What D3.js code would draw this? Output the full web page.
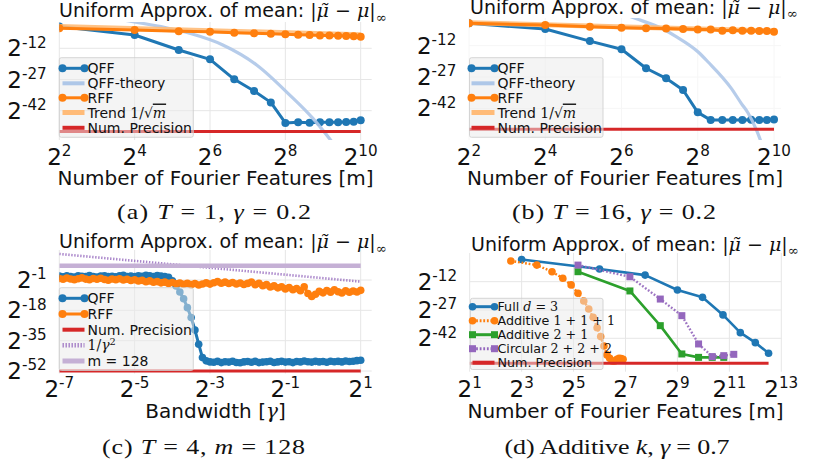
<!DOCTYPE html>
<html><head><meta charset="utf-8">
<script src="https://cdn.jsdelivr.net/npm/d3@7/dist/d3.min.js"></script>
<style>html,body{margin:0;padding:0;background:#fff;}svg{display:block;}</style>
</head><body>
<svg id="fig" width="816" height="467"></svg>
<script>
// ================= DATA (values are log2 exponents of the error) =================
// Panel (a): T = 1, gamma = 0.2
const aM = [4,16,36,64,100,144,196,256,324,400,484,576,676,784,900,1024];
const aQFF = [-1.5,-5.6,-12.8,-17.3,-26.9,-32.5,-38.0,-47.9,-47.6,-47.8,-47.6,-47.5,-47.5,-47.4,-47.3,-46.6];
const aRFF = [-2.4,-3.2,-3.8,-4.1,-4.5,-4.8,-5.0,-5.3,-5.5,-5.6,-5.8,-5.9,-6.0,-6.1,-6.2,-6.4];
const aTheoryM = [12,15.5,28,44,81,151,278,425,580,680];
const aTheory = [2.0,0.8,-2.0,-4.8,-10.4,-20.0,-34.5,-45.7,-55.6,-61.0];
const aTrendM = [4,1024];
const aTrend = [-1.5,-5.5];
const aPrec = -52;

// Panel (b): T = 16, gamma = 0.2
const bM = [4,16,36,64,100,144,196,256,324,400,484,576,676,784,900,1024];
const bQFF = [-1.3,-4.0,-9.8,-13.7,-22.8,-27.6,-33.2,-43.9,-47.6,-47.5,-47.6,-47.5,-47.4,-47.6,-47.5,-47.3];
const bRFF = [-1.3,-2.1,-2.9,-3.4,-3.7,-3.8,-4.0,-4.2,-4.3,-4.8,-4.6,-4.8,-4.8,-5.0,-5.0,-5.3];
const bTheoryM = [64,82,141,169,258,309,471,568,639,744,832];
const bTheory = [3.5,1.1,-4.5,-7.3,-15.0,-19.8,-32.4,-39.8,-44.2,-52.3,-60.0];
const bTrendM = [4,1024];
const bTrend = [-1.0,-5.0];
const bPrec = -52;

// Panel (c): T = 4, m = 128 ; x = log2(gamma)
const cGamma = [-7.0,-6.9,-6.8,-6.7,-6.6,-6.5,-6.4,-6.3,-6.2,-6.1,
  -6.0,-5.9,-5.8,-5.7,-5.6,-5.5,-5.4,-5.3,-5.2,-5.1,
  -5.0,-4.9,-4.8,-4.7,-4.6,-4.5,-4.4,-4.3,-4.2,-4.1,
  -4.0,-3.9,-3.8,-3.7,-3.6,-3.5,-3.4,-3.3,-3.2,-3.1,
  -3.0,-2.9,-2.8,-2.7,-2.6,-2.5,-2.4,-2.3,-2.2,-2.1,
  -2.0,-1.9,-1.8,-1.7,-1.6,-1.5,-1.4,-1.3,-1.2,-1.1,
  -1.0,-0.9,-0.8,-0.7,-0.6,-0.5,-0.4,-0.3,-0.2,-0.1,
  0.0,0.1,0.2,0.3,0.4,0.5,0.6,0.7,0.8,0.9,1.0];
const cQFF = [1.2,0.8,1.4,1.0,0.7,1.3,1.1,0.9,1.5,1.0,
  0.6,1.2,1.4,0.9,1.1,0.8,1.3,1.6,1.0,1.2,
  0.9,1.4,1.1,1.7,1.3,1.0,1.5,1.2,0.9,0.5,
  -1.5,-4.3,-7.7,-11.5,-16.5,-22.0,-29.0,-37.0,-44.5,-46.3,
  -46.9,-47.1,-46.6,-47.3,-46.8,-47.0,-46.5,-47.2,-47.4,-46.9,
  -46.7,-47.1,-46.6,-47.3,-47.0,-46.8,-46.5,-47.2,-46.9,-46.6,
  -47.0,-46.8,-47.3,-46.7,-46.9,-46.4,-46.8,-47.0,-46.6,-46.9,
  -46.7,-47.1,-46.5,-46.8,-46.6,-46.9,-46.4,-46.7,-46.5,-46.2,-46.0];
const cRFF = [-0.2,-0.6,0.1,-0.4,-0.8,-0.3,0.2,-0.5,-0.9,-0.2,
  -0.6,0.0,-0.7,-1.1,-0.4,-0.8,-0.3,-1.0,-0.6,-1.3,
  -0.9,-1.6,-1.2,-2.0,-1.5,-2.3,-1.9,-2.6,-2.2,-2.9,
  -2.4,-3.1,-2.7,-3.4,-2.9,-3.6,-3.0,-3.8,-3.2,-2.6,
  -3.3,-2.5,-1.9,-2.8,-2.2,-3.0,-2.4,-3.2,-2.7,-3.5,
  -2.9,-2.1,-3.6,-2.8,-4.2,-3.6,-4.9,-4.3,-5.4,-4.8,
  -6.0,-5.2,-6.5,-5.8,-7.0,-4.8,-8.6,-10.2,-9.0,-7.4,
  -8.2,-6.9,-7.8,-6.5,-7.6,-8.3,-7.0,-7.9,-7.2,-7.7,-6.8];
const cInvGamma = [-7, 1];
const cInvSq = [13.6, -1.9];
const cM128 = 7;
const cPrec = -52;

// Panel (d): Additive k, gamma = 0.7
const dFullM = [8,64,216,512,1000,1728,2744,4096,5832];
const dFull = [-0.2,-5.3,-8.5,-16.4,-20.3,-29.6,-39.0,-44.3,-49.9];
const dAdd111M = [6,12,18,24,30,36,42,48,54,60,66,72,78,84,90,96,102,108,114,120];
const dAdd111 = [-1.0,-3.2,-6.7,-10.2,-13.7,-18.1,-22.2,-26.5,-30.9,-36.4,-41.1,-46.1,-50.8,-52.6,-54.0,-54.0,-53.1,-52.6,-52.7,-53.1];
const dAdd21M = [36,144,324,576,900,1296,1764];
const dAdd21 = [-6.7,-16.9,-35.3,-50.3,-52.1,-52.1,-52.1];
const dCircM = [36,144,324,576,900,1296,1764,2304];
const dCirc = [-3.2,-9.4,-21.2,-30.0,-45.0,-51.7,-51.2,-50.5];
const dPrecM = [2, 5832];
const dPrec = -55.2;

// tick exponents
const mTicks = [2,4,6,8,10];
const gTicks = [-7,-5,-3,-1,1];
const dTicks = [1,3,5,7,9,11,13];
const yTicksAB = [-12,-27,-42];
const yTicksC = [-1,-18,-35,-52];
const yTicksD = [-12,-27,-42];

// ================= DRAWING =================
const svg = d3.select('#fig');
const defs = svg.append('defs');
const SANS = "'DejaVu Sans', sans-serif";
const SERIF = "'DejaVu Serif', serif";
const CAP = "'Liberation Serif', serif";
const INK = '#111111';
const C = {blue:'#1f77b4', orange:'#ff7f0e', ltblue:'#aec7e8', ltorange:'#ffbb78', red:'#d62728',
  purple:'#9467bd', ltpurple:'#c5b0d5', green:'#2ca02c'};
const p2 = e => Math.pow(2, e);

function rich(g, x, y, segs, fs, anchor, family, supScale) {
  const t = g.append('text').attr('x', x).attr('y', y).attr('font-size', fs)
    .attr('text-anchor', anchor || 'start').attr('fill', INK).attr('font-family', family || SANS);
  const ss = supScale || 0.7;
  let shift = 0;
  segs.forEach(([txt, st]) => {
    const s = t.append('tspan').text(txt);
    if (st.includes('r') || st.includes('i')) s.attr('font-family', family === CAP ? CAP : SERIF);
    if (st.includes('i')) s.attr('font-style', 'italic');
    let target = 0;
    if (st.includes('^')) { target = -fs * 0.38; s.attr('font-size', fs * ss); }
    if (st.includes('_')) { target = fs * 0.25; s.attr('font-size', fs * ss); }
    if (target !== shift) { s.attr('dy', target - shift); shift = target; }
    if (st.includes('o')) s.attr('text-decoration', 'overline');
  });
  return t;
}
const expStr = d => (d < 0 ? '-' + Math.abs(d) : String(d));

function axes(cfg) {
  const g = svg.append('g');
  const x = d3.scaleLog().base(2).domain(cfg.xDom).range(cfg.xRng);
  const y = d3.scaleLog().base(2).domain(cfg.yDom).range(cfg.yRng);
  const [L, T, R, B] = cfg.area;
  defs.append('clipPath').attr('id', cfg.id).append('rect')
    .attr('x', L).attr('y', T).attr('width', R - L).attr('height', B - T);
  g.selectAll(null).data(cfg.xTicks).join('line')
    .attr('x1', d => x(p2(d))).attr('x2', d => x(p2(d))).attr('y1', T).attr('y2', B)
    .attr('stroke', cfg.grid).attr('stroke-width', 1);
  g.selectAll(null).data(cfg.yTicks).join('line')
    .attr('y1', d => y(p2(d))).attr('y2', d => y(p2(d))).attr('x1', L).attr('x2', R)
    .attr('stroke', cfg.grid).attr('stroke-width', 1);
  cfg.xTicks.forEach(d => rich(g, x(p2(d)), cfg.xLabY, [['2', 's'], [expStr(d), 's^']], 23, 'middle', SANS, 0.66));
  cfg.yTicks.forEach(d => rich(g, L - 12.6, y(p2(d)) + 8, [['2', 's'], [expStr(d), 's^']], 23, 'end', SANS, 0.66));
  const plot = g.append('g').attr('clip-path', `url(#${cfg.id})`);
  return {g, plot, x, y, area: cfg.area};
}

function markers(g, pts, o) {
  if (o.marker === 'circle') {
    g.selectAll(null).data(pts).join('circle').attr('cx', d => d[0]).attr('cy', d => d[1])
      .attr('r', o.r).attr('fill', o.color).attr('opacity', o.mop || 1);
  } else if (o.marker === 'square') {
    g.selectAll(null).data(pts).join('rect').attr('x', d => d[0] - o.r).attr('y', d => d[1] - o.r)
      .attr('width', 2 * o.r).attr('height', 2 * o.r).attr('fill', o.color).attr('opacity', o.mop || 1);
  }
}

function series(ax, xs, es, o) {
  const pts = xs.map((v, i) => [ax.x(v), ax.y(p2(es[i]))]);
  const line = d3.line().curve(o.curve || d3.curveLinear);
  ax.plot.append('path').attr('d', line(pts)).attr('fill', 'none').attr('stroke', o.color)
    .attr('stroke-width', o.w).attr('stroke-linejoin', 'round').attr('stroke-linecap', o.cap || 'butt')
    .attr('stroke-dasharray', o.dash || null).attr('opacity', o.op || 1);
  if (o.marker) markers(ax.plot, pts, o);
}

function legend(cfg) {
  const g = svg.append('g');
  const [L, T, R, B] = cfg.box;
  g.append('rect').attr('x', L).attr('y', T).attr('width', R - L).attr('height', B - T).attr('rx', 2)
    .attr('fill', '#e9e9e9').attr('fill-opacity', 0.5).attr('stroke', '#cccccc').attr('stroke-width', 0.8);
  cfg.items.forEach((it, i) => {
    const yy = cfg.rows[i];
    const [h0, h1] = cfg.hx;
    g.append('line').attr('x1', h0).attr('x2', h1).attr('y1', yy).attr('y2', yy)
      .attr('stroke', it.color).attr('stroke-width', it.w).attr('stroke-dasharray', it.dash || null)
      .attr('opacity', it.op || 1);
    if (it.marker) markers(g, [[h0, yy], [h1, yy]], it);
    rich(g, cfg.tx, yy + cfg.fs * 0.36, it.label, cfg.fs, 'start');
  });
}

const TITLE = [['Uniform Approx. of mean: ', 's'], ['|', 'r'], ['\u03bc\u0303', 'i'], [' \u2212 ', 'r'], ['\u03bc', 'i'], ['|', 'r'], ['\u221e', 'r_']];
function title(x, y) { rich(svg, x, y, TITLE, 19, 'start'); }
function caption(cx, y, segs, len) {
  const sx = 1.3;
  const t = rich(svg, 0, 0, segs, 20, 'middle', CAP).attr('transform', `translate(${cx},${y}) scale(${sx},1)`);
  if (len) t.attr('textLength', len / sx).attr('lengthAdjust', 'spacing');
}

// ---------- Panel (a) ----------
(function () {
  const ax = axes({id: 'clipA', xDom: [4, 1024], xRng: [59.3, 360.7], yDom: [p2(-12), p2(-42)], yRng: [48.3, 110.7],
    area: [59.3, 22, 371.7, 140], xTicks: mTicks, yTicks: yTicksAB, xLabY: 165, grid: '#e6e6e6'});
  series(ax, aM, aQFF, {color: C.blue, w: 3, marker: 'circle', r: 4});
  series(ax, aTheoryM, aTheory, {color: C.ltblue, w: 3.2, curve: d3.curveMonotoneX, op: 0.9});
  series(ax, aTrendM, aTrend, {color: C.ltorange, w: 5, op: 0.9});
  series(ax, aM, aRFF, {color: C.orange, w: 3, marker: 'circle', r: 4});
  series(ax, [4, 1024], [aPrec, aPrec], {color: C.red, w: 3});
  legend({box: [59.3, 57.7, 193.3, 137.3], rows: [68.3, 83.3, 97.8, 112.5, 127.8], hx: [62.5, 84.5], tx: 87.5, fs: 14,
    items: [
      {color: C.blue, w: 3, marker: 'circle', r: 4, label: [['QFF', 's']]},
      {color: C.ltblue, w: 4, label: [['QFF-theory', 's']]},
      {color: C.orange, w: 3, marker: 'circle', r: 4, label: [['RFF', 's']]},
      {color: C.ltorange, w: 5, label: [['Trend ', 's'], ['1/\u221a', 'r'], ['m', 'io']]},
      {color: C.red, w: 4, label: [['Num. Precision', 's']]}
    ]});
  title(59, 17);
  rich(svg, 215.5, 184.5, [['Number of Fourier Features [m]', 's']], 20, 'middle');
  caption(214, 219, [['(a) ', 'r'], ['T', 'i'], [' = 1, ', 'r'], ['\u03b3', 'i'], [' = 0.2', 'r']], 194);
})();

// ---------- Panel (b) ----------
(function () {
  const ax = axes({id: 'clipB', xDom: [4, 1024], xRng: [469, 774], yDom: [p2(-12), p2(-42)], yRng: [45.7, 108.4],
    area: [469, 18, 781, 140], xTicks: mTicks, yTicks: yTicksAB, xLabY: 165, grid: '#f6f6f6'});
  series(ax, bM, bQFF, {color: C.blue, w: 3, marker: 'circle', r: 4});
  series(ax, bTheoryM, bTheory, {color: C.ltblue, w: 3.2, curve: d3.curveMonotoneX, op: 0.9});
  series(ax, bTrendM, bTrend, {color: C.ltorange, w: 5, op: 0.9});
  series(ax, bM, bRFF, {color: C.orange, w: 3, marker: 'circle', r: 4});
  series(ax, [4, 1024], [bPrec, bPrec], {color: C.red, w: 3});
  legend({box: [469.5, 57.7, 603, 137.3], rows: [68.3, 83.3, 97.8, 112.5, 127.8], hx: [471.5, 494.5], tx: 497.5, fs: 14,
    items: [
      {color: C.blue, w: 3, marker: 'circle', r: 4, label: [['QFF', 's']]},
      {color: C.ltblue, w: 4, label: [['QFF-theory', 's']]},
      {color: C.orange, w: 3, marker: 'circle', r: 4, label: [['RFF', 's']]},
      {color: C.ltorange, w: 5, label: [['Trend ', 's'], ['1/\u221a', 'r'], ['m', 'io']]},
      {color: C.red, w: 4, label: [['Num. Precision', 's']]}
    ]});
  title(470, 13.5);
  rich(svg, 625, 185, [['Number of Fourier Features [m]', 's']], 20, 'middle');
  caption(614, 219, [['(b) ', 'r'], ['T', 'i'], [' = 16, ', 'r'], ['\u03b3', 'i'], [' = 0.2', 'r']], 204);
})();

// ---------- Panel (c) ----------
(function () {
  const ax = axes({id: 'clipC', xDom: [p2(-7), p2(1)], xRng: [59.3, 360.7], yDom: [p2(-1), p2(-52)], yRng: [280, 371],
    area: [59.3, 250, 371.7, 373.5], xTicks: gTicks, yTicks: yTicksC, xLabY: 396.7, grid: '#e6e6e6'});
  const gx = cGamma.map(p2);
  series(ax, gx, cQFF, {color: C.blue, w: 3, marker: 'circle', r: 3.8});
  series(ax, gx, cRFF, {color: C.orange, w: 3, marker: 'circle', r: 3.8});
  series(ax, [p2(-7), p2(1)], [cPrec, cPrec], {color: C.red, w: 3});
  series(ax, cInvGamma.map(p2), cInvSq, {color: C.purple, w: 2.6, dash: '1.4,1.6', op: 0.8});
  series(ax, [p2(-7), p2(1)], [cM128, cM128], {color: C.ltpurple, w: 4.5});
  legend({box: [59.3, 287.7, 193.3, 370.5], rows: [298.3, 314, 329.7, 345.3, 361], hx: [62.5, 84.5], tx: 87.5, fs: 14,
    items: [
      {color: C.blue, w: 3, marker: 'circle', r: 4, label: [['QFF', 's']]},
      {color: C.orange, w: 3, marker: 'circle', r: 4, label: [['RFF', 's']]},
      {color: C.red, w: 4, label: [['Num. Precision', 's']]},
      {color: C.purple, w: 4.5, dash: '1.4,1.6', op: 0.8, label: [['1/', 'r'], ['\u03b3', 'i'], ['2', 'r^']]},
      {color: C.ltpurple, w: 5, label: [['m = 128', 's']]}
    ]});
  title(59, 248.3);
  rich(svg, 215.5, 418.3, [['Bandwidth [', 's'], ['\u03b3', 'i'], [']', 's']], 20, 'middle');
  caption(203.5, 453.5, [['(c) ', 'r'], ['T', 'i'], [' = 4, ', 'r'], ['m', 'i'], [' = 128', 'r']], 203);
})();

// ---------- Panel (d) ----------
(function () {
  const ax = axes({id: 'clipD', xDom: [p2(1), p2(13)], xRng: [469.7, 781.3], yDom: [p2(-12), p2(-42)], yRng: [281.7, 338.3],
    area: [469.7, 253, 781.3, 371.7], xTicks: dTicks, yTicks: yTicksD, xLabY: 396.7, grid: '#e6e6e6'});
  series(ax, dFullM, dFull, {color: C.blue, w: 2.6, marker: 'circle', r: 3.8});
  series(ax, dAdd111M, dAdd111, {color: C.orange, w: 2.4, dash: '1.8,1.8', marker: 'circle', r: 3.8});
  series(ax, dAdd21M, dAdd21, {color: C.green, w: 2.6, marker: 'square', r: 3.5});
  series(ax, dCircM, dCirc, {color: C.purple, w: 2.4, dash: '1.8,1.8', marker: 'square', r: 3.5, op: 0.9});
  series(ax, dPrecM, [dPrec, dPrec], {color: C.red, w: 3});
  legend({box: [470.5, 298.3, 603, 369.5], rows: [306.7, 320.7, 334.7, 348.7, 362.7], hx: [472.5, 494.5], tx: 497.5, fs: 12.7,
    items: [
      {color: C.blue, w: 3, marker: 'circle', r: 3.8, label: [['Full ', 's'], ['d', 'i'], [' = 3', 'r']]},
      {color: C.orange, w: 3, dash: '1.8,1.8', marker: 'circle', r: 3.8, label: [['Additive ', 's'], ['1 + 1 + 1', 'r']]},
      {color: C.green, w: 3, marker: 'square', r: 3.5, label: [['Additive ', 's'], ['2 + 1', 'r']]},
      {color: C.purple, w: 3, dash: '1.8,1.8', marker: 'square', r: 3.5, label: [['Circular ', 's'], ['2 + 2 + 2', 'r']]},
      {color: C.red, w: 4, label: [['Num. Precision', 's']]}
    ]});
  title(471, 250.7);
  rich(svg, 625.5, 418.3, [['Number of Fourier Features [m]', 's']], 20, 'middle');
  caption(617, 453.5, [['(d) Additive ', 'r'], ['k', 'i'], [', ', 'r'], ['\u03b3', 'i'], [' = 0.7', 'r']], 225);
})();
</script>
</body></html>
